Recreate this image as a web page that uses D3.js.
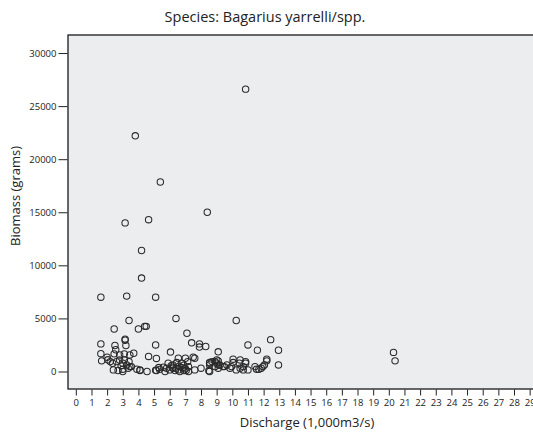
<!DOCTYPE html>
<html>
<head>
<meta charset="utf-8">
<script src="https://cdn.jsdelivr.net/npm/d3@7"></script>
<style>
  html, body { margin: 0; padding: 0; background: #fff; }
  svg { display: block; font-family: "Open Sans", "DejaVu Sans", sans-serif; }
</style>
</head>
<body>
<svg id="chart" width="533" height="435"></svg>
<script>
// Discharge (1,000 m3/s) and biomass (g) of each Bagarius catch
const discharge = [
  10.85, 3.8, 5.4, 8.4, 3.15, 4.65, 4.2, 4.2, 1.6, 3.25, 5.1,
  6.4, 3.4, 10.25, 2.45, 4.0, 4.4, 4.5, 7.1,
  3.15, 3.15, 12.45, 1.6, 2.5, 3.2, 5.1, 7.4, 7.9, 7.9, 8.3, 11.0,
  2.55, 12.95, 11.6, 9.1, 6.05, 20.3, 20.4,
  1.6, 2.45, 2.8, 3.1, 3.45, 3.7, 4.65, 5.15, 7.5, 7.6, 2.0,
  1.65, 2.05, 2.2, 2.35, 2.6, 2.8, 3.0, 3.25, 3.45, 3.1, 3.4, 2.9,
  2.4, 2.7, 3.0, 3.35, 3.55, 3.9, 4.1, 4.55, 3.0, 4.1,
  5.1, 5.35, 5.8, 6.2, 6.55, 5.3, 5.6,
  6.55, 7.0, 7.15, 5.9, 6.2, 6.45, 6.75,
  5.15, 5.7, 6.0, 6.35, 6.65, 6.9, 7.2, 7.6, 8.0, 8.55, 8.55, 8.9, 9.2, 9.5,
  6.2, 6.4, 6.6, 6.8, 7.0, 7.2, 6.1, 6.9, 7.05,
  8.7, 9.0, 9.0, 8.55, 8.9,
  9.1, 9.1, 9.1, 8.55, 8.5, 9.4,
  9.65, 9.85, 9.95, 10.05, 10.25, 10.45, 10.5, 10.7, 10.7, 10.85, 11.0,
  11.45, 11.55, 11.7, 11.85, 11.95, 12.05, 12.2, 12.2, 12.95,
  10.05, 10.5, 10.85
];
const biomass = [
  26600, 22200, 17850, 15000, 14000, 14300, 11400, 8800, 7000, 7100, 7000,
  5000, 4800, 4800, 4000, 4000, 4250, 4250, 3600,
  3050, 2950, 3000, 2600, 2450, 2450, 2500, 2700, 2600, 2300, 2350, 2500,
  2050, 2000, 2000, 1850, 1830, 1800, 1000,
  1680, 1660, 1560, 1660, 1560, 1720, 1420, 1230, 1350, 1250, 1350,
  1000, 1100, 930, 780, 930, 1090, 780, 620, 460, 1090, 930, 530,
  150, 90, 220, 310, 460, 220, 150, 0, 0, 100,
  120, 200, 310, 310, 150, 370, 400,
  1250, 1250, 930, 780, 620, 840, 780,
  90, 0, 150, 90, 0, 90, 0, 150, 310, 0, 780, 930, 620, 460,
  400, 300, 500, 350, 250, 450, 550, 600, 90,
  930, 1090, 780, 620, 460,
  1000, 620, 310, 840, 60, 460,
  620, 310, 460, 840, 150, 780, 310, 460, 150, 780, 150,
  460, 220, 220, 310, 460, 620, 1160, 1000, 620,
  1160, 1090, 930
];
const xTickValues = d3.range(0, 30);
const yTickValues = [0, 5000, 10000, 15000, 20000, 25000, 30000];

const titleText = "Species: Bagarius yarrelli/spp.";
const xTitle = "Discharge (1,000m3/s)";
const yTitle = "Biomass (grams)";

const points = discharge.map((d, i) => ({ x: d, y: biomass[i] }));

const svg = d3.select("#chart");
const plot = { left: 68, top: 35, right: 545.3, bottom: 389 };

const x = d3.scaleLinear().domain([-0.5, 30]).range([plot.left, plot.right]);
const y = d3.scaleLinear().domain([-1650, 31700]).range([plot.bottom, plot.top]);

// plot background
svg.append("rect")
  .attr("x", plot.left).attr("y", plot.top)
  .attr("width", plot.right - plot.left).attr("height", plot.bottom - plot.top)
  .attr("fill", "#ecedef");

// axes
const yAxis = d3.axisLeft(y).tickValues(yTickValues).tickSize(9).tickPadding(2)
  .tickFormat(d3.format("d"));
const gy = svg.append("g").attr("transform", `translate(${plot.left - 0.5},0)`).call(yAxis);
gy.select(".domain").remove();
gy.selectAll(".tick line").attr("stroke", "#222").attr("stroke-width", 1);
gy.selectAll(".tick text").attr("font-size", 9.5).attr("fill", "#222")
  .attr("font-family", "'Open Sans', sans-serif");

const xAxis = d3.axisBottom(x).tickValues(xTickValues).tickSize(6).tickPadding(4)
  .tickFormat(d3.format("d"));
const gx = svg.append("g").attr("transform", `translate(0,${plot.bottom + 0.5})`).call(xAxis);
gx.select(".domain").remove();
gx.selectAll(".tick line").attr("stroke", "#222").attr("stroke-width", 1);
gx.selectAll(".tick text").attr("font-size", 9.5).attr("fill", "#222")
  .attr("font-family", "'Open Sans', sans-serif");

// frame
svg.append("rect")
  .attr("x", plot.left).attr("y", plot.top)
  .attr("width", plot.right - plot.left).attr("height", plot.bottom - plot.top)
  .attr("fill", "none").attr("stroke", "#1a1a1a").attr("stroke-width", 1.3);

// markers
svg.append("g").selectAll("circle")
  .data(points)
  .join("circle")
  .attr("cx", d => x(d.x))
  .attr("cy", d => y(d.y))
  .attr("r", 3.2)
  .attr("fill", "none")
  .attr("stroke", "#2a2a2a")
  .attr("stroke-width", 1.05);

// titles
svg.append("text")
  .attr("x", 265).attr("y", 22)
  .attr("text-anchor", "middle")
  .attr("font-size", 14.5).attr("fill", "#222")
  .text(titleText);

svg.append("text")
  .attr("x", 307).attr("y", 427)
  .attr("text-anchor", "middle")
  .attr("font-size", 13).attr("fill", "#222")
  .text(xTitle);

svg.append("text")
  .attr("transform", "translate(20,196) rotate(-90)")
  .attr("text-anchor", "middle")
  .attr("font-size", 13).attr("fill", "#222")
  .text(yTitle);
</script>
</body>
</html>
